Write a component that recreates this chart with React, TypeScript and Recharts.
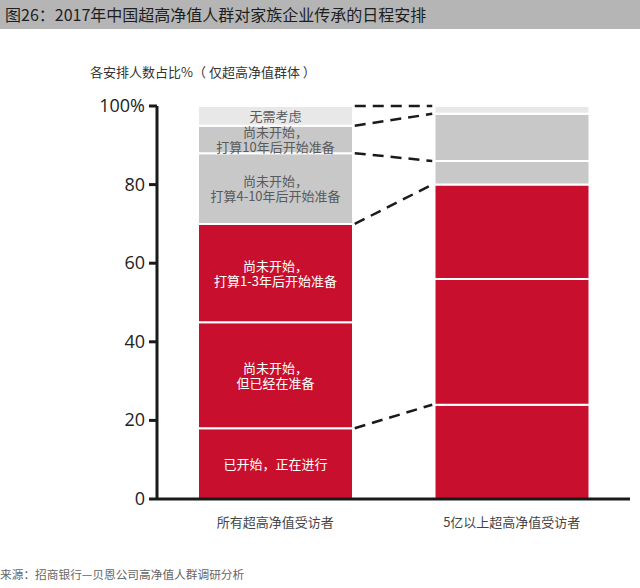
import React from 'react'
import { BarChart, Bar, XAxis, YAxis, ReferenceLine, LabelList } from 'recharts'

const categories = ['所有超高净值受访者', '5亿以上超高净值受访者']

// share of respondents per stage (%), bottom to top
const started = [18, 24]
const preparing = [27, 32]
const in1to3 = [25, 24]
const in4to10 = [18, 6]
const after10 = [7, 12]
const noNeed = [5, 2]

const seriesNames = ['started', 'preparing', 'in1to3', 'in4to10', 'after10', 'noNeed']
const seriesValues = [started, preparing, in1to3, in4to10, after10, noNeed]
const seriesColors = ['#c8102e', '#c8102e', '#c8102e', '#c8c8c8', '#c8c8c8', '#e8e8e8']
const seriesLabels = [
  ['已开始，正在进行'],
  ['尚未开始，', '但已经在准备'],
  ['尚未开始，', '打算1-3年后开始准备'],
  ['尚未开始，', '打算4-10年后开始准备'],
  ['尚未开始，', '打算10年后开始准备'],
  ['无需考虑'],
]
const labelColors = ['#ffffff', '#ffffff', '#ffffff', '#5a5a5a', '#5a5a5a', '#5a5a5a']

// which stacked boundaries get a dashed connector (index of series whose top is joined)
const connectorSeries = [0, 2, 3, 4, 5]

const yTicks = [0, 20, 40, 60, 80, 100]

const BAR_SIZE = 155

const data = categories.map((name, i) => {
  const row: Record<string, any> = { name }
  seriesNames.forEach((key, s) => {
    row[key] = seriesValues[s][i]
  })
  return row
})

function cumulativeTop(s: number, i: number) {
  let sum = 0
  for (let k = 0; k <= s; k++) sum += seriesValues[k][i]
  return sum
}

// dashed line from the left bar's right edge to the right bar's left edge
const Connector = (props: any) => {
  const { x1, y1, x2, y2 } = props
  if (x1 == null) return null
  return (
    <line
      x1={x1 + BAR_SIZE / 2 + 2}
      y1={y1}
      x2={x2 - BAR_SIZE / 2 - 2}
      y2={y2}
      stroke="#1a1a1a"
      strokeWidth={2.5}
      strokeDasharray="11 7"
    />
  )
}

const makeLabel = (s: number) => (props: any) => {
  const { x, y, width, height, index } = props
  if (index !== 0) return null
  const lines = seriesLabels[s]
  const cx = x + width / 2
  const cy = y + height / 2
  const lh = 15
  return (
    <text
      x={cx}
      y={cy}
      textAnchor="middle"
      fill={labelColors[s]}
      fontSize={13}
      fontFamily="'Noto Sans CJK SC', sans-serif"
    >
      {lines.map((t, j) => (
        <tspan key={j} x={cx} y={cy + (j - (lines.length - 1) / 2) * lh + 5}>
          {t}
        </tspan>
      ))}
    </text>
  )
}

const YTick = (props: any) => {
  const { x, y, payload } = props
  return (
    <text
      x={x - 2}
      y={y + 6}
      textAnchor="end"
      fill="#222"
      fontSize={18}
      fontFamily="'Open Sans', 'DejaVu Sans', sans-serif"
    >
      {payload.value === 100 ? '100%' : payload.value}
    </text>
  )
}

export default function App() {
  return (
    <div
      style={{
        position: 'relative',
        width: 640,
        height: 588,
        background: '#fff',
        overflow: 'hidden',
        fontFamily: "'Noto Sans CJK SC', sans-serif",
      }}
    >
      <style>{'body{margin:0}'}</style>
      <div
        style={{
          position: 'absolute',
          left: 0,
          top: 0,
          width: 640,
          height: 29,
          background: '#b5b5b5',
          color: '#1e1e1e',
          fontSize: 16,
          lineHeight: '29px',
          paddingLeft: 5,
          boxSizing: 'border-box',
        }}
      >
        图26：2017年中国超高净值人群对家族企业传承的日程安排
      </div>
      <div
        style={{
          position: 'absolute',
          left: 90,
          top: 62,
          fontSize: 13,
          color: '#333',
        }}
      >
        各安排人数占比%（ 仅超高净值群体 ）
      </div>
      <div style={{ position: 'absolute', left: 0, top: 0 }}>
        <BarChart
          width={640}
          height={588}
          data={data}
          margin={{ top: 106, right: 10, left: 97, bottom: 59 }}
          barSize={BAR_SIZE}
        >
          <XAxis
            dataKey="name"
            axisLine={{ stroke: '#1a1a1a', strokeWidth: 3 }}
            tickLine={false}
            tick={{ fill: '#444', fontSize: 13 }}
            tickMargin={13}
          />
          <YAxis
            width={60}
            domain={[0, 100]}
            ticks={yTicks}
            allowDataOverflow
            axisLine={{ stroke: '#1a1a1a', strokeWidth: 3 }}
            tickLine={{ stroke: '#1a1a1a', strokeWidth: 3 }}
            tickSize={8}
            tick={<YTick />}
          />
          {seriesNames.map((key, s) => (
            <Bar
              key={key}
              dataKey={key}
              stackId="a"
              fill={seriesColors[s]}
              stroke="#ffffff"
              strokeWidth={2}
              isAnimationActive={false}
            >
              <LabelList dataKey={key} content={makeLabel(s)} />
            </Bar>
          ))}
          {connectorSeries.map((s) => (
            <ReferenceLine
              key={`c-${s}`}
              segment={[
                { x: categories[0], y: cumulativeTop(s, 0) },
                { x: categories[1], y: cumulativeTop(s, 1) },
              ]}
              ifOverflow="visible"
              shape={<Connector />}
            />
          ))}
        </BarChart>
      </div>
      <div
        style={{
          position: 'absolute',
          left: 0,
          top: 565,
          fontSize: 11.7,
          color: '#666',
        }}
      >
        来源：招商银行—贝恩公司高净值人群调研分析
      </div>
    </div>
  )
}
